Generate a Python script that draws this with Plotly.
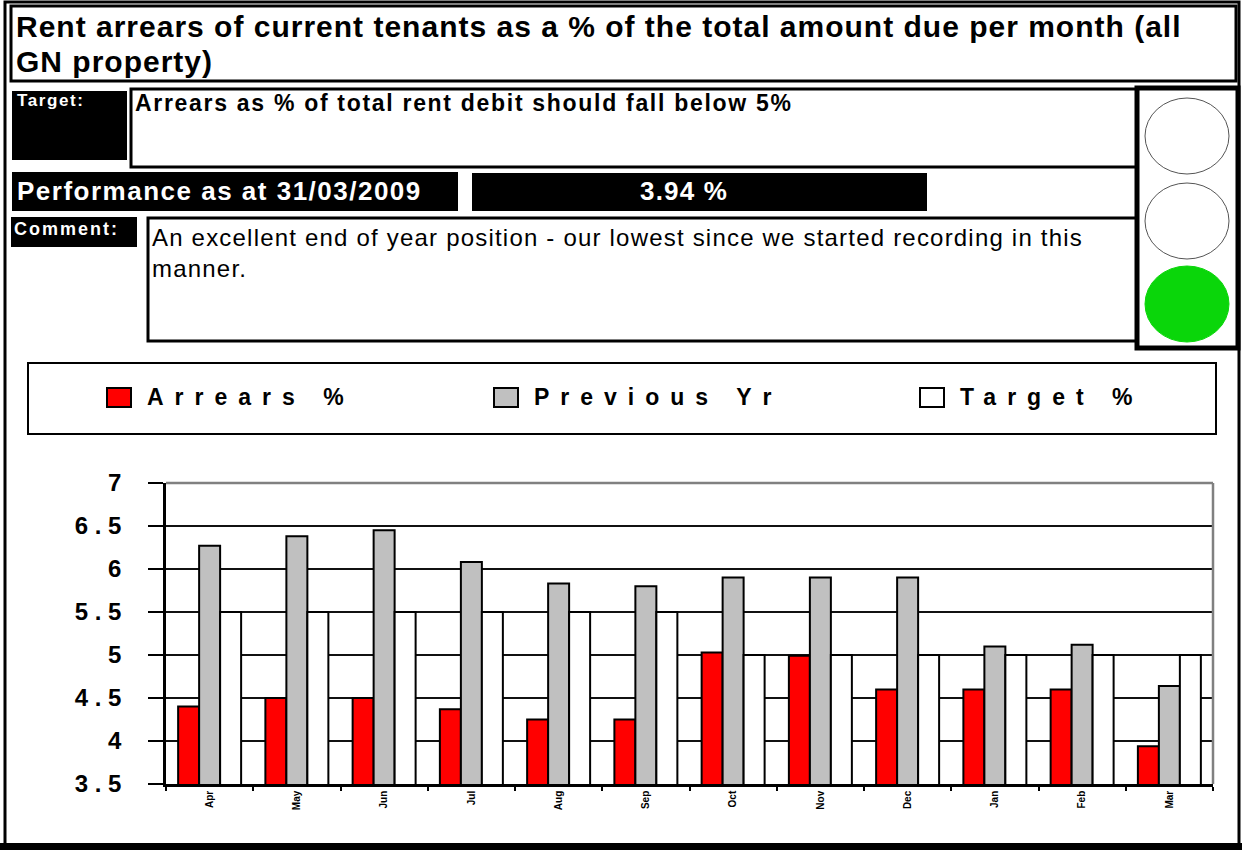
import plotly.graph_objects as go

# ---------------- data ----------------
months = ["Apr", "May", "Jun", "Jul", "Aug", "Sep", "Oct", "Nov", "Dec", "Jan", "Feb", "Mar"]
arrears_pct = [4.40, 4.50, 4.50, 4.37, 4.25, 4.25, 5.03, 4.99, 4.60, 4.60, 4.60, 3.94]
previous_yr = [6.27, 6.38, 6.45, 6.08, 5.83, 5.80, 5.90, 5.90, 5.90, 5.10, 5.12, 4.64]
target_pct = [5.5, 5.5, 5.5, 5.5, 5.5, 5.5, 5.0, 5.0, 5.0, 5.0, 5.0, 5.0]
y_tick_values = [3.5, 4, 4.5, 5, 5.5, 6, 6.5, 7]
y_tick_labels = ["3 . 5", "4", "4 . 5", "5", "5 . 5", "6", "6 . 5", "7"]
series_names = ["Arrears %", "Previous Yr", "Target %"]
series_colors = ["#FF0000", "#C0C0C0", "#FFFFFF"]

title_line1 = "Rent arrears of current tenants as a % of the total amount due per month (all"
title_line2 = "GN property)"
target_text = "Arrears as % of total rent debit should fall below 5%"
performance_text = "Performance as at 31/03/2009"
performance_value = "3.94 %"
comment_line1 = "An excellent end of year position - our lowest since we started recording in this"
comment_line2 = "manner."

W, H = 1242, 850
FONT = "Liberation Sans, Arial, sans-serif"
NARROW = "Liberation Sans Narrow, Arial Narrow, Liberation Sans, Arial, sans-serif"


def X(p):
    return p / W


def Y(p):
    return 1 - p / H


fig = go.Figure()
for name, vals, col in zip(series_names, [arrears_pct, previous_yr, target_pct], series_colors):
    fig.add_trace(go.Bar(
        x=months, y=vals, name=name,
        marker=dict(color=col, line=dict(color="#000000", width=2)),
        showlegend=False,
    ))

shapes = []


def rect(x0, y0, x1, y1, lw=3, fill=None, lc="#000000"):
    shapes.append(dict(type="rect", xref="paper", yref="paper",
                       x0=X(x0), x1=X(x1), y0=Y(y0), y1=Y(y1),
                       line=dict(color=lc, width=lw),
                       fillcolor=fill if fill else "rgba(0,0,0,0)", layer="above"))


# outer frame
rect(5, 2, 1239, 846, lw=3)
rect(0, 843, 1242, 850, lw=0, fill="#000000")
# title box
rect(11, 6, 1236, 81, lw=3)
# target row
rect(12, 91, 127, 160, lw=0, fill="#000000")
rect(131, 89, 1137, 167, lw=3)
# performance row
rect(12, 172, 458, 211, lw=0, fill="#000000")
rect(472, 173, 927, 211, lw=0, fill="#000000")
# comment row
rect(11, 217, 137, 247, lw=0, fill="#000000")
rect(148, 218, 1137, 341, lw=3)
# traffic light
rect(1137, 88, 1238, 348, lw=5, fill="#FFFFFF")
for cy, fill, lc in [(136, "#FFFFFF", "#555555"), (221, "#FFFFFF", "#555555"), (304, "#0AD60A", "#0AD60A")]:
    shapes.append(dict(type="circle", xref="paper", yref="paper",
                       x0=X(1145), x1=X(1229), y0=Y(cy - 38), y1=Y(cy + 38),
                       fillcolor=fill, line=dict(color=lc, width=1), layer="above"))
# legend box
rect(28, 363, 1216, 434, lw=2)
legend_x = [107, 494, 920]
for lx, col in zip(legend_x, series_colors):
    rect(lx, 388, lx + 24, 407, lw=2, fill=col)
# plot area top / right border in grey
shapes.append(dict(type="line", xref="x domain", yref="y domain", x0=0, x1=1, y0=1, y1=1,
                   line=dict(color="#808080", width=2.5), layer="above"))
shapes.append(dict(type="line", xref="x domain", yref="y domain", x0=1, x1=1, y0=0, y1=1,
                   line=dict(color="#808080", width=2.5), layer="above"))

annotations = []


def text(x, y, s, size, color="#000000", bold=True, xanchor="left", family=FONT, ls=0):
    if ls:
        s = '<span style="letter-spacing:%spx">%s</span>' % (ls, s)
    annotations.append(dict(xref="paper", yref="paper", x=X(x), y=Y(y), text=s,
                            showarrow=False, xanchor=xanchor, yanchor="middle", align="left",
                            font=dict(family=family, size=size, color=color,
                                      weight="bold" if bold else "normal")))


text(14, 27, title_line1, 30, ls=1)
text(14, 61, title_line2, 30, ls=1)
text(15, 101, "Target:", 17, color="#FFFFFF", ls=1.6)
text(133, 103, target_text, 23, ls=1.7)
text(15, 191, performance_text, 26, color="#FFFFFF", ls=1.5)
text(684, 191, performance_value, 26, color="#FFFFFF", xanchor="center", ls=1.2)
text(12, 229, "Comment:", 18, color="#FFFFFF", ls=2)
text(150, 237, comment_line1, 24, bold=False, ls=1.2)
text(150, 269, comment_line2, 24, bold=False, ls=1.2)
for lx, name in zip(legend_x, series_names):
    text(lx + 38, 397, name, 23, family=NARROW, ls=11)

fig.update_layout(
    width=W, height=H,
    margin=dict(l=0, r=0, t=0, b=0, pad=0, autoexpand=False),
    paper_bgcolor="#FFFFFF", plot_bgcolor="#FFFFFF",
    barmode="group", bargap=0.278, bargroupgap=0,
    shapes=shapes, annotations=annotations,
    showlegend=False,
    xaxis=dict(
        domain=[X(166), X(1213)],
        type="category", tickson="boundaries",
        ticks="outside", ticklen=4, tickwidth=2, tickcolor="#000000",
        showline=True, linecolor="#000000", linewidth=2.5,
        showgrid=False, tickangle=-90, automargin=False,
        tickfont=dict(family=NARROW, size=10, color="#000000", weight="bold"),
    ),
    yaxis=dict(
        domain=[Y(784), Y(483)],
        range=[3.5, 7], tickvals=y_tick_values, ticktext=y_tick_labels,
        ticks="outside", ticklen=15, tickwidth=2, tickcolor="#000000",
        showline=True, linecolor="#000000", linewidth=2.5,
        showgrid=True, gridcolor="#111111", gridwidth=2,
        zeroline=False, ticklabelstandoff=22, automargin=False,
        tickfont=dict(family=FONT, size=24, color="#000000", weight="bold"),
    ),
)

fig.write_html("out.html", config={"displayModeBar": False},
               post_script="document.body.style.margin='0';")
